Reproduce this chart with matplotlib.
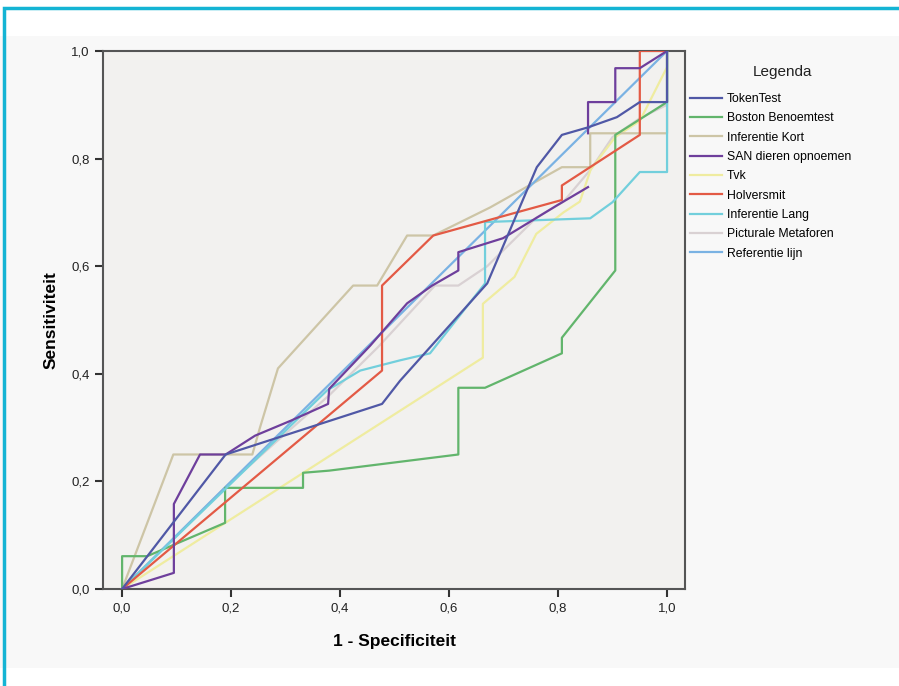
import numpy as np
import matplotlib.pyplot as plt
from matplotlib.patches import Rectangle

plt.rcParams['font.family'] = ['Liberation Sans', 'DejaVu Sans']

# ROC-curves per test (x = 1 - specificiteit, y = sensitiviteit)
token_x = [0, 0.19, 0.477, 0.51, 0.67, 0.761, 0.807, 0.855, 0.908, 0.95, 1.0, 1.0]
token_y = [0, 0.25, 0.344, 0.387, 0.568, 0.784, 0.844, 0.858, 0.877, 0.905, 0.905, 1.0]

boston_x = [0, 0, 0.046, 0.189, 0.189, 0.332, 0.332, 0.38, 0.617, 0.617, 0.666, 0.807, 0.807, 0.905, 0.905, 1.0, 1.0]
boston_y = [0, 0.061, 0.061, 0.123, 0.188, 0.188, 0.216, 0.22, 0.25, 0.374, 0.374, 0.438, 0.467, 0.592, 0.844, 0.905, 1.0]

infkort_x = [0, 0.094, 0.239, 0.253, 0.286, 0.424, 0.468, 0.523, 0.571, 0.675, 0.754, 0.807, 0.859, 0.859, 1.0, 1.0]
infkort_y = [0, 0.25, 0.25, 0.30, 0.41, 0.564, 0.564, 0.657, 0.657, 0.709, 0.754, 0.784, 0.784, 0.847, 0.847, 1.0]

# lijn is in de bron onderbroken bij x = 0,855
san_x = [0, 0.095, 0.095, 0.143, 0.19, 0.244, 0.31, 0.378, 0.38, 0.455, 0.523, 0.569, 0.617, 0.617, 0.699, 0.798, 0.855,
         np.nan, 0.855, 0.855, 0.905, 0.905, 0.95, 1.0]
san_y = [0, 0.03, 0.158, 0.25, 0.25, 0.285, 0.313, 0.344, 0.372, 0.452, 0.531, 0.564, 0.592, 0.626, 0.652, 0.713, 0.747,
         np.nan, 0.847, 0.905, 0.905, 0.968, 0.968, 1.0]

tvk_x = [0, 0.662, 0.662, 0.72, 0.76, 0.81, 0.84, 0.86, 0.905, 0.95, 1.0, 1.0]
tvk_y = [0, 0.43, 0.53, 0.58, 0.66, 0.70, 0.72, 0.78, 0.84, 0.87, 0.97, 1.0]

holv_x = [0, 0.477, 0.477, 0.571, 0.717, 0.807, 0.807, 0.95, 0.95, 1.0]
holv_y = [0, 0.406, 0.564, 0.657, 0.698, 0.723, 0.75, 0.844, 1.0, 1.0]

inflang_x = [0, 0.376, 0.437, 0.51, 0.565, 0.666, 0.666, 0.859, 0.9, 0.95, 1.0, 1.0]
inflang_y = [0, 0.369, 0.406, 0.425, 0.438, 0.568, 0.682, 0.689, 0.719, 0.775, 0.775, 1.0]

pict_x = [0, 0.095, 0.19, 0.29, 0.38, 0.47, 0.574, 0.617, 0.67, 0.76, 0.81, 0.86, 0.9, 0.95, 1.0, 1.0]
pict_y = [0, 0.094, 0.19, 0.28, 0.36, 0.45, 0.564, 0.564, 0.6, 0.69, 0.72, 0.78, 0.84, 0.875, 0.9, 1.0]

ref_x = [0, 1]
ref_y = [0, 1]

labels = ['TokenTest', 'Boston Benoemtest', 'Inferentie Kort', 'SAN dieren opnoemen', 'Tvk',
          'Holversmit', 'Inferentie Lang', 'Picturale Metaforen', 'Referentie lijn']
colors = ['#5058a6', '#62b56c', '#cdc5a6', '#6e3f9c', '#efeca0',
          '#e35a45', '#72cfdc', '#d9d1d3', '#7ab2e3']

series = [(token_x, token_y), (boston_x, boston_y), (infkort_x, infkort_y), (san_x, san_y),
          (tvk_x, tvk_y), (holv_x, holv_y), (inflang_x, inflang_y), (pict_x, pict_y), (ref_x, ref_y)]
zorders = [9, 5, 3, 8, 2, 7, 6, 1, 4]

fig = plt.figure(figsize=(8.99, 6.86), dpi=100, facecolor='white')

# lichte achtergrond + cyaan kader
fig.patches.append(Rectangle((0, 0.026), 1, 0.922, transform=fig.transFigure,
                             facecolor='#f8f8f8', edgecolor='none', zorder=-2))
fig.patches.append(Rectangle((0.0045, -0.05), 1.2, 0.9925 - 0.0045 + 0.05, transform=fig.transFigure,
                             facecolor='none', edgecolor='#14b4d4', linewidth=2.5, zorder=-1))

ax = fig.add_axes([0.1146, 0.1414, 0.6474, 0.7843])
ax.set_facecolor('#f2f1ef')

for (xs, ys), lab, c, z in zip(series, labels, colors, zorders):
    ax.plot(xs, ys, color=c, lw=1.6, label=lab, zorder=z)

ax.set_xlim(-0.035, 1.033)
ax.set_ylim(0, 1)

ticks = [0, 0.2, 0.4, 0.6, 0.8, 1.0]
tick_labels = ['0,0', '0,2', '0,4', '0,6', '0,8', '1,0']
ax.set_xticks(ticks)
ax.set_xticklabels(tick_labels)
ax.set_yticks(ticks)
ax.set_yticklabels(tick_labels)
ax.tick_params(direction='out', length=6, width=1.5, color='#333333', labelsize=9.5, labelcolor='#222222')

for s in ax.spines.values():
    s.set_color('#555555')
    s.set_linewidth(1.5)

ax.set_xlabel('1 - Specificiteit', fontsize=12.5, fontweight='bold', labelpad=14)
ax.set_ylabel('Sensitiviteit', fontsize=12.5, fontweight='bold', labelpad=9)

fig.text(783 / 899, 1 - 72 / 686, 'Legenda', fontsize=11, ha='center', va='center', color='#222222')
leg = fig.legend(loc='upper left', bbox_to_anchor=(685 / 899, 1 - 88 / 686), frameon=False,
                 fontsize=8.8, handlelength=2.6, handletextpad=0.4,
                 labelspacing=0.6, borderaxespad=0)

fig.savefig('out.png', dpi=100, facecolor=fig.get_facecolor())
